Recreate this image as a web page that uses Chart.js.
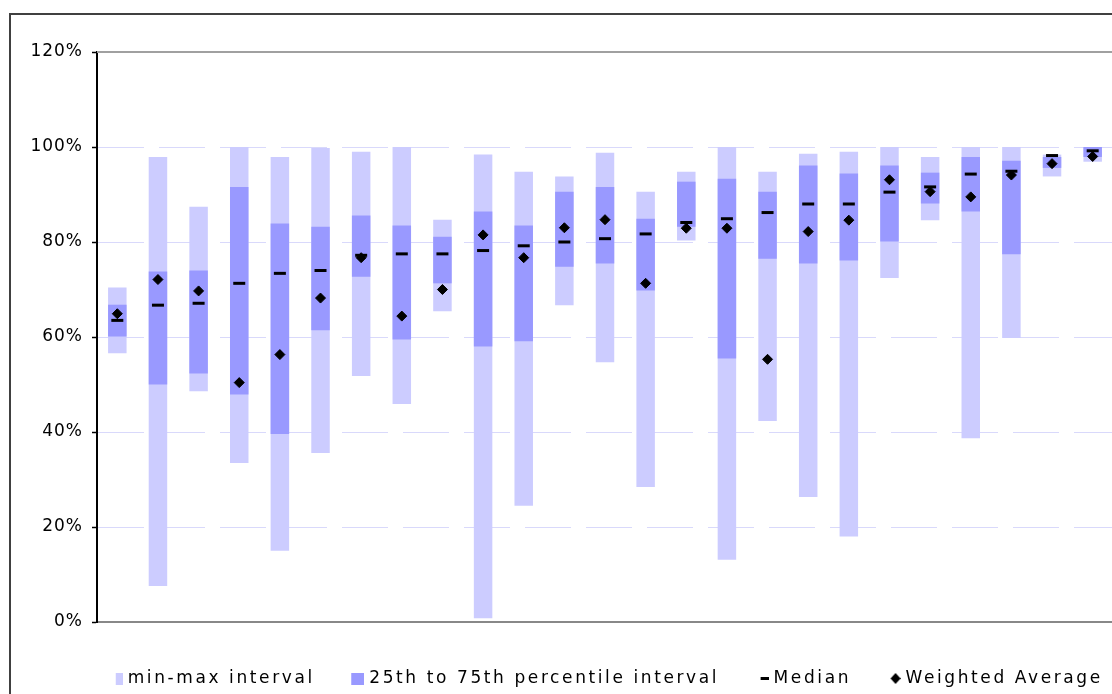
<!DOCTYPE html>
<html>
<head>
<meta charset="utf-8">
<script src="https://cdn.jsdelivr.net/npm/chart.js@4.4.1/dist/chart.umd.min.js"></script>
<style>
  html, body { margin: 0; padding: 0; background: #fff; overflow: hidden; width: 1112px; height: 694px; }
  .frame { position: absolute; left: 9px; top: 13px; border-left: 2px solid #404040; border-top: 2px solid #404040; }
  canvas { display: block; }
</style>
</head>
<body>
<div class="frame"><canvas id="chart" width="1192" height="682"></canvas></div>
<script>
  // one entry per category, sorted by median (values in %)
  const categories = ['1', '2', '3', '4', '5', '6', '7', '8', '9', '10', '11', '12', '13',
    '14', '15', '16', '17', '18', '19', '20', '21', '22', '23', '24', '25'];
  const minValues = [56.6, 7.6, 48.6, 33.5, 15.0, 35.6, 51.8, 45.9, 65.4, 0.8, 24.5, 66.7, 54.7,
    28.4, 80.3, 13.1, 42.3, 26.3, 18.0, 72.4, 84.6, 38.7, 59.8, 93.8, 96.9];
  const maxValues = [70.4, 97.9, 87.4, 100, 97.9, 99.8, 99.0, 100, 84.7, 98.4, 94.8, 93.8, 98.8,
    90.6, 94.8, 100, 94.8, 98.6, 99.0, 100, 97.9, 100, 100, 98.4, 100];
  const q1Values = [60.1, 50.0, 52.3, 47.9, 39.6, 61.4, 72.7, 59.5, 71.3, 58.0, 59.1, 74.8, 75.5,
    69.8, 83.2, 55.5, 76.5, 75.5, 76.1, 80.1, 88.1, 86.4, 77.4, 95.6, 97.9];
  const q3Values = [66.8, 73.8, 74.0, 91.6, 83.9, 83.2, 85.6, 83.5, 81.1, 86.4, 83.5, 90.6, 91.6,
    84.9, 92.7, 93.3, 90.6, 96.1, 94.4, 96.1, 94.6, 97.9, 97.1, 97.9, 100];
  const medianValues = [63.5, 66.7, 67.1, 71.3, 73.4, 74.0, 77.2, 77.5, 77.5, 78.2, 79.2, 80.0, 80.7,
    81.7, 84.1, 84.9, 86.2, 88.0, 88.0, 90.5, 91.6, 94.3, 94.9, 98.2, 99.2];
  const avgValues = [64.9, 72.1, 69.7, 50.4, 56.3, 68.2, 76.7, 64.4, 70.0, 81.5, 76.7, 83.0, 84.7,
    71.3, 82.9, 82.9, 55.3, 82.2, 84.6, 93.1, 90.6, 89.5, 94.1, 96.5, 98.0];
  const yTicks = [0, 20, 40, 60, 80, 100, 120];

  const LIGHT = '#ccccff';
  const MID = '#9999ff';
  const GRID = '#d9d9fb';

  // legend markers: 15px wide canvases, shape pushed to the right so it sits close to the text
  function icon(w, h, draw) {
    const c = document.createElement('canvas');
    c.width = 15; c.height = h;
    const g = c.getContext('2d');
    g.translate(15 - w, 0);
    draw(g, w, h);
    return c;
  }
  const legendIcons = [
    icon(7, 12, (g, w, h) => { g.fillStyle = LIGHT; g.fillRect(0, 0, w, h); }),
    icon(13, 12, (g, w, h) => { g.fillStyle = MID; g.fillRect(0, 0, w, h); }),
    icon(8, 3, (g, w, h) => { g.fillStyle = '#000'; g.fillRect(0, 0, w, h); }),
    icon(10, 11, (g, w, h) => {
      g.fillStyle = '#000';
      g.beginPath();
      g.moveTo(w / 2, 0); g.lineTo(w, h / 2); g.lineTo(w / 2, h); g.lineTo(0, h / 2);
      g.closePath(); g.fill();
    }),
  ];

  // Excel draws its texts a bit spread out; canvas letterSpacing does the same
  const textSpacing = {
    id: 'textSpacing',
    beforeLayout(chart) { chart.ctx.letterSpacing = '2.6px'; },
    beforeDraw(chart) { chart.ctx.letterSpacing = '2.6px'; },
    afterDatasetsDraw(chart) { chart.ctx.letterSpacing = '1px'; },
  };

  // grey line along the top of the plot area
  const plotTop = {
    id: 'plotTop',
    beforeDatasetsDraw(chart) {
      const { ctx, chartArea } = chart;
      ctx.save();
      ctx.strokeStyle = '#a0a0a0';
      ctx.lineWidth = 2;
      ctx.beginPath();
      ctx.moveTo(chartArea.left, chartArea.top);
      ctx.lineTo(chartArea.right + 2, chartArea.top);
      ctx.stroke();
      ctx.restore();
    },
  };

  const zip = (a, b) => a.map((v, i) => [v, b[i]]);

  new Chart(document.getElementById('chart'), {
    type: 'bar',
    data: {
      labels: categories,
      datasets: [
        {
          label: 'min-max interval',
          data: zip(minValues, maxValues),
          backgroundColor: LIGHT,
          order: 4,
        },
        {
          label: '25th to 75th percentile interval',
          data: zip(q1Values, q3Values),
          backgroundColor: MID,
          order: 3,
        },
        {
          type: 'line',
          label: 'Median',
          data: medianValues,
          showLine: false,
          pointStyle: 'line',
          pointRadius: 6,
          pointBorderWidth: 3,
          borderColor: '#000',
          backgroundColor: '#000',
          order: 2,
        },
        {
          type: 'line',
          label: 'Weighted Average',
          data: avgValues,
          showLine: false,
          pointStyle: 'rectRot',
          pointRadius: 5,
          pointBorderWidth: 1,
          borderColor: '#000',
          backgroundColor: '#000',
          order: 1,
        },
      ],
    },
    options: {
      responsive: false,
      animation: false,
      events: [],
      datasets: {
        bar: { grouped: false, barPercentage: 0.455, categoryPercentage: 1, borderWidth: 0 },
      },
      layout: { padding: { top: 37, left: 0, right: 0, bottom: 0 } },
      plugins: {
        tooltip: { enabled: false },
        legend: {
          position: 'bottom',
          reverse: true,
          labels: {
            color: '#000',
            font: { family: 'DejaVu Sans', size: 17 },
            usePointStyle: true,
            pointStyleWidth: 8,
            boxHeight: 12,
            padding: 38,
            generateLabels(chart) {
              const items = Chart.defaults.plugins.legend.labels.generateLabels(chart);
              items.forEach(it => { it.pointStyle = legendIcons[it.datasetIndex]; });
              return items;
            },
          },
        },
      },
      scales: {
        x: {
          type: 'category',
          offset: true,
          grid: { display: false },
          ticks: { display: false },
          border: { color: '#888', width: 2 },
          afterFit(s) { s.height = 10; },
        },
        y: {
          min: 0,
          max: 120,
          afterBuildTicks(s) { s.ticks = yTicks.map(v => ({ value: v })); },
          ticks: {
            z: 1,
            padding: 9,
            color: '#000',
            font: { family: 'DejaVu Sans', size: 17 },
            callback: v => v + '%',
          },
          grid: {
            color: c => (c.tick && (c.tick.value === 0 || c.tick.value === 120)) ? 'rgba(0,0,0,0)' : GRID,
            lineWidth: 1,
            tickLength: 5,
            tickColor: '#000',
            tickWidth: 1.5,
          },
          border: { color: '#000', width: 2, dash: [46, 15] },
          afterFit(s) { s.width = 86; },
        },
        pad: {
          type: 'linear',
          position: 'right',
          grid: { display: false },
          ticks: { display: false },
          border: { display: false },
          afterFit(s) { s.width = 90; },
        },
      },
    },
    plugins: [textSpacing, plotTop],
  });
</script>
</body>
</html>
